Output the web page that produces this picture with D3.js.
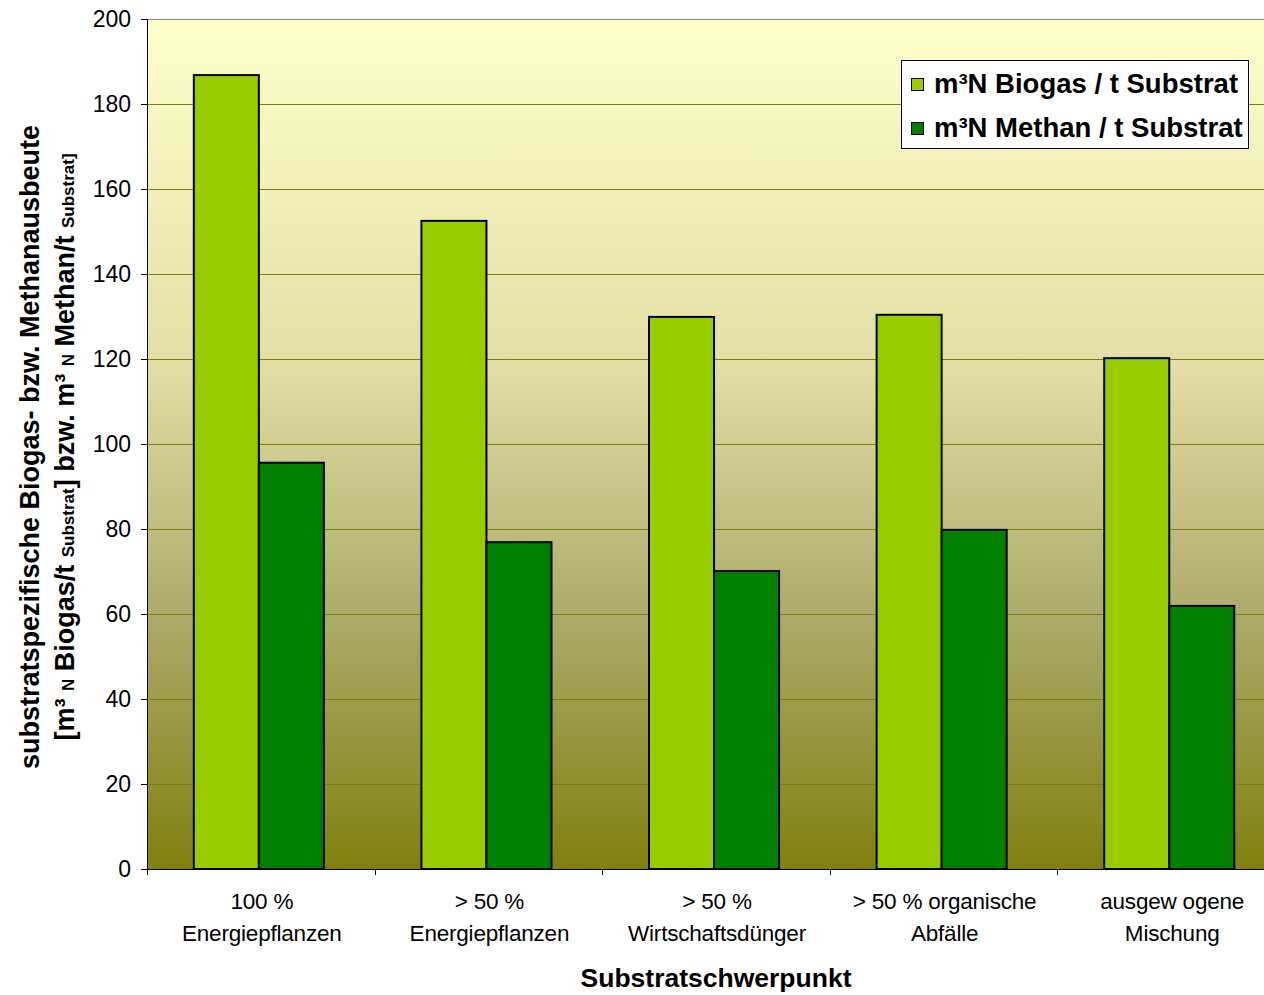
<!DOCTYPE html>
<html>
<head>
<meta charset="utf-8">
<script src="https://cdn.jsdelivr.net/npm/d3@7"></script>
<style>
  html, body { margin: 0; padding: 0; background: #fff; }
  svg { display: block; font-family: "Liberation Sans", Arial, sans-serif; }
</style>
</head>
<body>
<svg id="chart" width="1264" height="995"></svg>
<script>
// Substratschwerpunkt categories (two text lines each)
const categories = [
  ["100 %", "Energiepflanzen"],
  ["> 50 %", "Energiepflanzen"],
  ["> 50 %", "Wirtschaftsdünger"],
  ["> 50 % organische", "Abfälle"],
  ["ausgew ogene", "Mischung"]
];
const seriesNames = ["m³N Biogas / t Substrat", "m³N Methan / t Substrat"];
const biogas = [186.8, 152.5, 129.9, 130.4, 120.2];
const methan = [95.6, 76.9, 70.1, 79.8, 61.9];
const yTicks = [0, 20, 40, 60, 80, 100, 120, 140, 160, 180, 200];
const seriesColors = ["#99CC00", "#008000"];

const svg = d3.select("#chart");
const plot = { left: 147, top: 19, right: 1285, bottom: 869 };

const x = d3.scaleBand()
  .domain(d3.range(categories.length))
  .range([plot.left, plot.right])
  .paddingInner(0).paddingOuter(0);
// gap width 150 %: each category = 2 bars + 1.5 bar widths of gap
const barW = x.bandwidth() / 3.5;
const y = d3.scaleLinear().domain([0, 200]).range([plot.bottom, plot.top]);

// plot background gradient
const defs = svg.append("defs");
const grad = defs.append("linearGradient")
  .attr("id", "bg").attr("x1", 0).attr("y1", 0).attr("x2", 0).attr("y2", 1);
grad.append("stop").attr("offset", "0%").attr("stop-color", "#FFFFCC");
grad.append("stop").attr("offset", "40%").attr("stop-color", "#E2E0A6");
grad.append("stop").attr("offset", "70%").attr("stop-color", "#ADAB6B");
grad.append("stop").attr("offset", "100%").attr("stop-color", "#808010");

svg.append("rect")
  .attr("x", plot.left).attr("y", plot.top)
  .attr("width", plot.right - plot.left).attr("height", plot.bottom - plot.top)
  .attr("fill", "url(#bg)");

// horizontal gridlines
svg.append("g").selectAll("line")
  .data(yTicks.filter(d => d > 0))
  .join("line")
  .attr("x1", plot.left).attr("x2", plot.right)
  .attr("y1", d => Math.round(y(d)) + 0.5).attr("y2", d => Math.round(y(d)) + 0.5)
  .attr("stroke", "#808000").attr("stroke-width", 1);

// top border of plot
svg.append("line")
  .attr("x1", plot.left).attr("x2", plot.right)
  .attr("y1", plot.top + 0.5).attr("y2", plot.top + 0.5)
  .attr("stroke", "#808080").attr("stroke-width", 1);

// bars
const series = [biogas, methan];
series.forEach((vals, si) => {
  svg.append("g").selectAll("rect")
    .data(vals)
    .join("rect")
    .attr("x", (d, i) => x(i) + barW * 0.72 + si * barW)
    .attr("y", d => y(d))
    .attr("width", barW)
    .attr("height", d => y(0) - y(d))
    .attr("fill", seriesColors[si])
    .attr("stroke", "#000").attr("stroke-width", 2);
});

// y axis
const yAxis = svg.append("g")
  .attr("transform", `translate(${plot.left},0)`)
  .call(d3.axisLeft(y).tickValues(yTicks).tickSize(6).tickPadding(10).tickFormat(d3.format("d")));
yAxis.select(".domain").attr("stroke", "#000");
yAxis.selectAll(".tick line").attr("stroke", "#000");
yAxis.selectAll("text").attr("font-size", 23).attr("fill", "#000")
  .attr("font-family", "Liberation Sans, Arial, sans-serif");

// x axis with ticks at category boundaries
const xAxisG = svg.append("g");
xAxisG.append("line")
  .attr("x1", plot.left).attr("x2", plot.right)
  .attr("y1", plot.bottom + 0.5).attr("y2", plot.bottom + 0.5)
  .attr("stroke", "#000");
xAxisG.selectAll("line.tk")
  .data(d3.range(categories.length + 1))
  .join("line").attr("class", "tk")
  .attr("x1", i => Math.round(plot.left + i * x.step()) + 0.5)
  .attr("x2", i => Math.round(plot.left + i * x.step()) + 0.5)
  .attr("y1", plot.bottom).attr("y2", plot.bottom + 6)
  .attr("stroke", "#000");

// category labels
const catLabels = svg.append("g").selectAll("text")
  .data(categories)
  .join("text")
  .attr("text-anchor", "middle")
  .attr("font-size", 22.5)
  .attr("letter-spacing", "-0.2px")
  .attr("fill", "#000");
catLabels.each(function(d, i) {
  const t = d3.select(this);
  d.forEach((line, li) => {
    t.append("tspan")
      .attr("x", x(i) + x.bandwidth() / 2 + 1)
      .attr("y", 909 + li * 32)
      .text(line);
  });
});

// x axis title
svg.append("text")
  .attr("x", 716).attr("y", 987)
  .attr("text-anchor", "middle")
  .attr("font-size", 26.5).attr("font-weight", "bold")
  .text("Substratschwerpunkt");

// y axis title (two lines, rotated)
const yTitle = svg.append("g").attr("transform", "translate(0,447) rotate(-90)");
yTitle.append("text")
  .attr("x", 0).attr("y", 39)
  .attr("text-anchor", "middle")
  .attr("font-size", 27).attr("font-weight", "bold")
  .text("substratspezifische Biogas- bzw. Methanausbeute");
const t2 = yTitle.append("text")
  .attr("x", 0).attr("y", 74)
  .attr("text-anchor", "middle")
  .attr("font-size", 27).attr("font-weight", "bold");
const parts = [
  ["[m³ ", 27], ["N", 17], [" Biogas/t ", 27], ["Substrat", 17],
  ["] bzw. m³ ", 27], ["N", 17], [" Methan/t ", 27], ["Substrat]", 17]
];
parts.forEach(p => t2.append("tspan").attr("font-size", p[1]).text(p[0]));

// legend
const lg = svg.append("g");
lg.append("rect")
  .attr("x", 901.5).attr("y", 60.5).attr("width", 347).attr("height", 88)
  .attr("fill", "#fff").attr("stroke", "#000").attr("stroke-width", 1);
seriesNames.forEach((name, i) => {
  const cy = 84 + i * 44;
  lg.append("rect")
    .attr("x", 911.5).attr("y", cy - 5.5).attr("width", 12).attr("height", 12)
    .attr("fill", seriesColors[i]).attr("stroke", "#000").attr("stroke-width", 1);
  lg.append("text")
    .attr("x", 934).attr("y", cy + 9)
    .attr("font-size", 27.5).attr("font-weight", "bold")
    .text(name);
});
</script>
</body>
</html>
